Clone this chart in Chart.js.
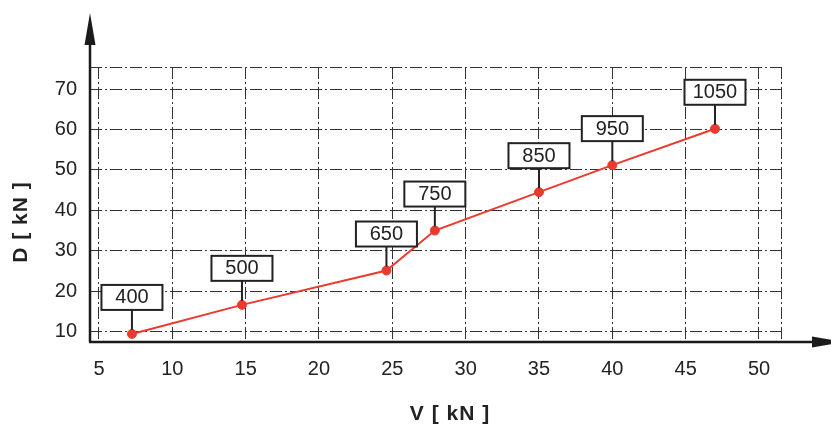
<!DOCTYPE html>
<html>
<head>
<meta charset="utf-8">
<script src="https://cdn.jsdelivr.net/npm/chart.js@4.4.1/dist/chart.umd.min.js"></script>
<style>
  html, body { margin: 0; padding: 0; background: #fff; }
</style>
</head>
<body>
<canvas id="loadChart" width="831" height="429"></canvas>
<script>
const loadLabels = ['400', '500', '650', '750', '850', '950', '1050'];
const vValues = [7.25, 14.75, 24.6, 27.9, 35.0, 40.0, 47.0];
const dValues = [9.4, 16.6, 25.1, 35.0, 44.5, 51.2, 60.2];
const xTicks = [5, 10, 15, 20, 25, 30, 35, 40, 45, 50];
const yTicks = [10, 20, 30, 40, 50, 60, 70];

const ink = '#222222';
const red = '#eb3a2d';
const gridDash = [12, 3, 2, 3];
const family = '"Liberation Sans", Arial, sans-serif';

const points = vValues.map((v, i) => ({ x: v, y: dValues[i] }));

// axis lines with arrow heads, running past the plot like in the drawing
const arrowAxes = {
    id: 'arrowAxes',
    beforeDatasetsDraw(chart) {
        const { ctx, chartArea: a } = chart;
        ctx.save();
        ctx.strokeStyle = '#1b1b1b';
        ctx.fillStyle = '#1b1b1b';
        ctx.lineWidth = 2.5;
        ctx.beginPath();
        ctx.moveTo(a.left, a.bottom);
        ctx.lineTo(a.left, 40);
        ctx.moveTo(a.left - 1, a.bottom);
        ctx.lineTo(815, a.bottom);
        ctx.stroke();
        // y arrow
        ctx.beginPath();
        ctx.moveTo(a.left, 13);
        ctx.lineTo(a.left - 5.5, 45);
        ctx.lineTo(a.left + 5.5, 45);
        ctx.closePath();
        ctx.fill();
        // x arrow
        ctx.beginPath();
        ctx.moveTo(844, a.bottom);
        ctx.lineTo(812, a.bottom - 5.5);
        ctx.lineTo(812, a.bottom + 5.5);
        ctx.closePath();
        ctx.fill();
        ctx.restore();
    },
    afterDraw(chart) {
        const { ctx } = chart;
        ctx.save();
        ctx.fillStyle = ink;
        ctx.font = 'bold 21px ' + family;
        ctx.letterSpacing = '1px';
        ctx.textAlign = 'center';
        ctx.textBaseline = 'middle';
        ctx.fillText('V [ kN ]', 450, 414);
        ctx.translate(21, 222);
        ctx.rotate(-Math.PI / 2);
        ctx.fillText('D [ kN ]', 0, 0);
        ctx.restore();
    }
};

// boxed load values hanging over each point
const loadTags = {
    id: 'loadTags',
    afterDatasetsDraw(chart) {
        const { ctx } = chart;
        const meta = chart.getDatasetMeta(0);
        ctx.save();
        ctx.font = '20px ' + family;
        ctx.textAlign = 'center';
        ctx.textBaseline = 'middle';
        ctx.strokeStyle = ink;
        ctx.lineWidth = 2;
        meta.data.forEach((pt, i) => {
            const boxBottom = pt.y - 24;
            ctx.beginPath();
            ctx.moveTo(pt.x, pt.y - 4);
            ctx.lineTo(pt.x, boxBottom);
            ctx.stroke();
            ctx.fillStyle = '#fff';
            ctx.fillRect(pt.x - 30.5, boxBottom - 25, 61, 25);
            ctx.strokeRect(pt.x - 30.5, boxBottom - 25, 61, 25);
            ctx.fillStyle = ink;
            ctx.fillText(loadLabels[i], pt.x, boxBottom - 12);
        });
        ctx.restore();
    }
};

const ctx = document.getElementById('loadChart').getContext('2d');

const loadChart = new Chart(ctx, {
    type: 'line',
    data: {
        datasets: [{
            data: points,
            borderColor: red,
            borderWidth: 2,
            pointRadius: 4.5,
            pointBackgroundColor: red,
            pointBorderColor: red,
            pointBorderWidth: 1,
            tension: 0
        }]
    },
    options: {
        responsive: false,
        animation: false,
        events: [],
        layout: { padding: { top: 67, right: 50, left: 0, bottom: 0 } },
        plugins: {
            legend: { display: false },
            tooltip: { enabled: false }
        },
        scales: {
            x: {
                type: 'linear',
                min: 4.39,
                max: 51.5,
                afterBuildTicks: (s) => { s.ticks = xTicks.concat([s.max]).map(v => ({ value: v })); },
                afterFit: (s) => { s.height = 87; },
                ticks: {
                    autoSkip: false,
                    maxRotation: 0,
                    padding: 15,
                    color: ink,
                    font: { size: 20, family: family },
                    callback: (v) => xTicks.includes(v) ? String(v) : ''
                },
                grid: { color: '#333333', lineWidth: 1, drawTicks: false },
                border: { display: false, dash: gridDash }
            },
            y: {
                type: 'linear',
                min: 7.4,
                max: 75.5,
                afterBuildTicks: (s) => { s.ticks = yTicks.concat([s.max]).map(v => ({ value: v })); },
                afterFit: (s) => { s.width = 90; },
                ticks: {
                    autoSkip: false,
                    padding: 13,
                    color: ink,
                    font: { size: 20, family: family },
                    callback: (v) => yTicks.includes(v) ? String(v) : ''
                },
                grid: { color: '#333333', lineWidth: 1, drawTicks: false },
                border: { display: false, dash: gridDash }
            }
        }
    },
    plugins: [arrowAxes, loadTags]
});
</script>
</body>
</html>
